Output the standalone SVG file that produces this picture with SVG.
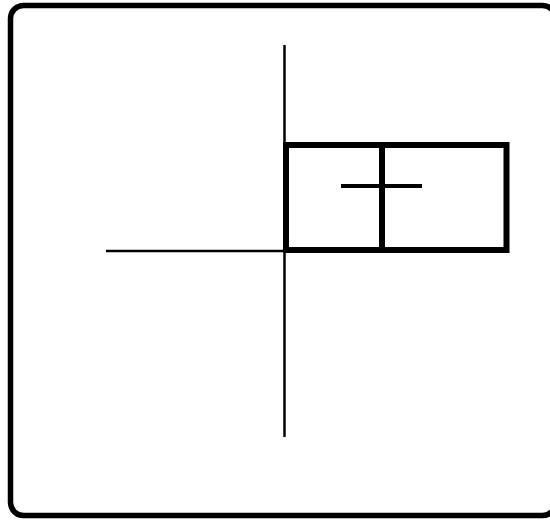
<svg xmlns="http://www.w3.org/2000/svg" width="550" height="520" viewBox="0 0 550 520">
  <style>
    .frame { fill: none; stroke: #000; stroke-width: 5.5; }
    .thin { fill: none; stroke: #000; stroke-width: 2.5; }
    .box { fill: none; stroke: #000; stroke-width: 6; }
    .cross { fill: none; stroke: #000; stroke-width: 4; }
  </style>
  <rect width="550" height="520" fill="#fff"/>
  <g id="frame">
    <rect class="frame" x="10.5" y="5.5" width="545" height="510" rx="13"/>
  </g>
  <g id="axes">
    <line class="thin" x1="284.5" y1="45" x2="284.5" y2="437"/>
    <line class="thin" x1="106" y1="251" x2="285" y2="251"/>
  </g>
  <g id="box">
    <rect class="box" x="286" y="145" width="220.5" height="105"/>
    <line class="box" x1="382" y1="145" x2="382" y2="250"/>
    <line class="cross" x1="341" y1="186" x2="422" y2="186"/>
  </g>
</svg>
